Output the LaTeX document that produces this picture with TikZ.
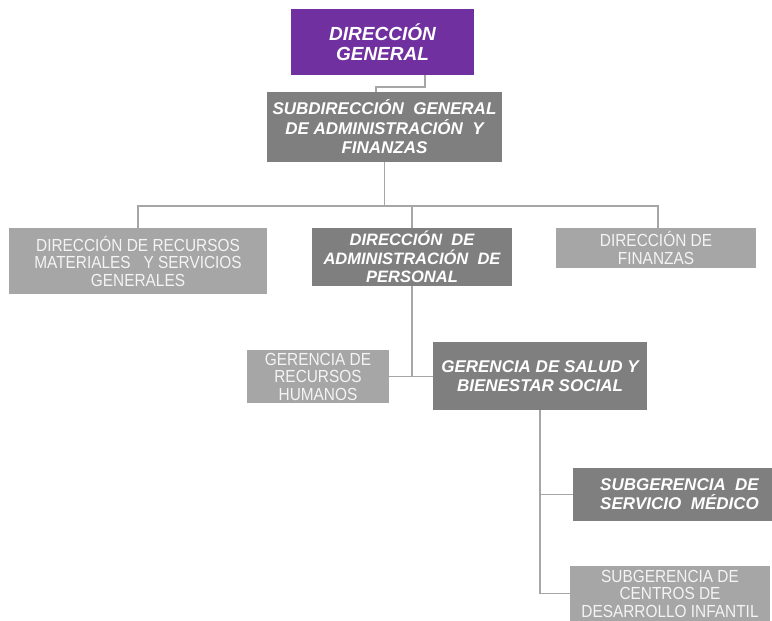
\documentclass[tikz,border=0pt]{standalone}
\usepackage{fontspec}
\setmainfont{Liberation Sans}
\newfontfamily\narrowfont[FakeStretch=0.88]{Liberation Sans}
\definecolor{dgpurple}{HTML}{7030A0}
\definecolor{dkgray}{HTML}{7F7F7F}
\definecolor{ltgray}{HTML}{A6A6A6}
\definecolor{lttext}{HTML}{F4F4F4}
\tikzset{
  box/.style={inner sep=0pt, align=center, text=white},
  topbox/.style={box, fill=dgpurple, font=\fontsize{19}{20}\selectfont\bfseries\itshape},
  darkbox/.style={box, fill=dkgray, font=\fontsize{17}{19}\selectfont\bfseries\itshape},
  lightbox/.style={box, fill=ltgray, text=lttext, font=\narrowfont\fontsize{17.5}{17.5}\selectfont},
  link/.style={draw=ltgray, line width=1.5pt}
}
\begin{document}
\begin{tikzpicture}[x=1pt,y=-1pt]
\useasboundingbox[fill=white] (0,0) rectangle (772,621);
% nodes
\node[topbox, minimum width=183, minimum height=66] (DG) at (382.5,42) {DIRECCIÓN\\GENERAL};
\node[darkbox, minimum width=235, minimum height=70, font=\fontsize{17}{19.5}\selectfont\bfseries\itshape] (SGAF) at (384.5,127) {SUBDIRECCIÓN\ \ GENERAL\\DE ADMINISTRACIÓN\ \ Y\\FINANZAS};
\node[lightbox, minimum width=258, minimum height=66] (DRMSG) at (138,261) {DIRECCIÓN DE RECURSOS\\MATERIALES\ \ \ Y SERVICIOS\\GENERALES};
\node[darkbox, minimum width=200, minimum height=58, font=\fontsize{16.5}{18.5}\selectfont\bfseries\itshape] (DAP) at (412,257) {DIRECCIÓN\ \ DE\\ADMINISTRACIÓN\ \ DE\\PERSONAL};
\node[lightbox, minimum width=200, minimum height=40] (DF) at (656,248) {DIRECCIÓN DE\\FINANZAS};
\node[lightbox, minimum width=142, minimum height=53] (GRH) at (318,376.5) {GERENCIA DE\\RECURSOS\\HUMANOS};
\node[darkbox, minimum width=214, minimum height=68] (GSBS) at (540,376) {GERENCIA DE SALUD Y\\BIENESTAR SOCIAL};
\node[darkbox, minimum width=199, minimum height=53] (SSM) at (672.5,494.5) {\hspace*{14pt}SUBGERENCIA\ \ DE\\\hspace*{14pt}SERVICIO\ \ MÉDICO};
\node[lightbox, minimum width=200, minimum height=55] (SCDI) at (670,593.5) {SUBGERENCIA DE\\CENTROS DE\\DESARROLLO INFANTIL};
% connectors
\coordinate (k1) at (425,87);
\coordinate (b1) at (385,206);
\draw[link] (DG.south -| k1) -- (k1) -| ([xshift=-8.5pt]SGAF.north);
\draw[link] (SGAF.south) -- (SGAF.south |- b1);
\draw[link] (DRMSG.north) |- (b1) -| ([xshift=2pt]DF.north);
\draw[link] (DAP.north) -- (DAP.north |- b1);
\draw[link] (DAP.south) -- (DAP.south |- GRH.east);
\draw[link] (GRH.east) -- (GSBS.west |- GRH.east);
\draw[link] (GSBS.south) |- (SCDI.west);
\draw[link] (GSBS.south |- SSM.west) -- (SSM.west);
\end{tikzpicture}
\end{document}
